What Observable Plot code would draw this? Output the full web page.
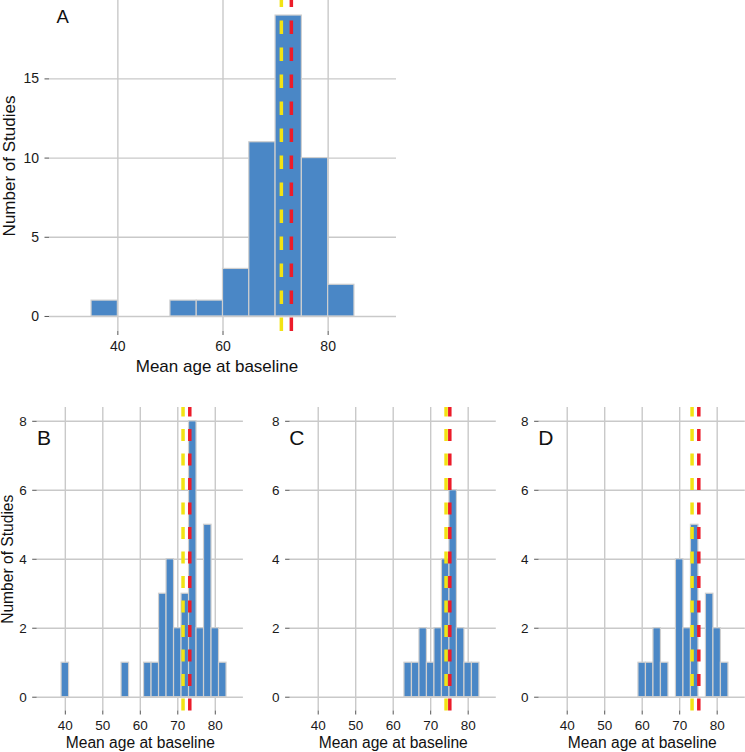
<!DOCTYPE html>
<html>
<head>
<meta charset="utf-8">
<script src="https://cdn.jsdelivr.net/npm/d3@7"></script>
<script src="https://cdn.jsdelivr.net/npm/@observablehq/plot@0.6"></script>
<style>
  html, body { margin: 0; padding: 0; background: #fff; }
  #wrap { position: relative; width: 745px; height: 752px; overflow: hidden; font-family: "Liberation Sans", Arial, sans-serif; }
</style>
</head>
<body>
<div id="wrap"></div>
<script>
// ---------- Data ----------
// Panel A: binwidth 5, bin start values and counts
const aBinStart = [35, 50, 55, 60, 65, 70, 75, 80];
const aCounts   = [1, 1, 1, 3, 11, 19, 10, 2];
const aYellow = 71.1, aRed = 73.0;

// Panels B, C, D: binwidth 2, bin centres and counts
const bBinMid = [40, 56, 62, 64, 66, 68, 70, 72, 74, 76, 78, 80, 82];
const bCounts = [1, 1, 1, 1, 3, 4, 2, 3, 8, 2, 5, 2, 1];
const bYellow = 71.4, bRed = 73.2;

const cBinMid = [64, 66, 68, 70, 72, 74, 76, 78, 80, 82];
const cCounts = [1, 1, 2, 1, 2, 4, 6, 2, 1, 1];
const cYellow = 74.1, cRed = 75.1;

const dBinMid = [60, 62, 64, 66, 70, 72, 74, 78, 80, 82];
const dCounts = [1, 1, 2, 1, 4, 2, 5, 3, 2, 1];
const dYellow = 73.3, dRed = 75.1;

const aXTicks = [40, 60, 80];
const aYTicks = [0, 5, 10, 15];
const bXTicks = [40, 50, 60, 70, 80];
const bYTicks = [0, 2, 4, 6, 8];

const xTitle = "Mean age at baseline";
const yTitle = "Number of Studies";
const panelLabels = ["A", "B", "C", "D"];

// ---------- Styling ----------
const FONT = "'Liberation Sans', Arial, sans-serif";
const BAR_FILL = "#4a87c6";
const BAR_STROKE = "#cfcfcf";
const GRID = "#c9c9c9";
const TICK = "#555";
const YELLOW = "#f2e313";
const RED = "#ec1c2a";

function panel(cfg) {
  const bars = cfg.starts.map((s, i) => ({x1: s, x2: s + cfg.bw, n: cfg.counts[i]}));
  const [y0, y1] = cfg.yDomain;
  const marks = [
    Plot.gridX(cfg.xTicks, {stroke: GRID, strokeOpacity: 1, strokeWidth: 1.4}),
    Plot.gridY(cfg.yTicks, {stroke: GRID, strokeOpacity: 1, strokeWidth: 1.4}),
    Plot.rect(bars, {x1: "x1", x2: "x2", y1: () => 0, y2: "n", fill: BAR_FILL, stroke: BAR_STROKE, strokeWidth: 1.2}),
    Plot.ruleX([cfg.yellow], {x: d => d, y1: () => y0, y2: () => y1, stroke: YELLOW, strokeWidth: 3.5, strokeDasharray: cfg.dash}),
    Plot.ruleX([cfg.red], {x: d => d, y1: () => y0, y2: () => y1, stroke: RED, strokeWidth: 3.5, strokeDasharray: cfg.dash}),
    Plot.axisX(cfg.xTicks, {anchor: "bottom", tickSize: 4, tickPadding: cfg.xPad, fontSize: cfg.tickFont, stroke: TICK, fill: "#1a1a1a", label: null}),
    Plot.axisY(cfg.yTicks, {anchor: "left", tickSize: 4.5, tickPadding: 6, fontSize: cfg.tickFont, stroke: TICK, fill: "#1a1a1a", label: null}),
    Plot.text([xTitle], {frameAnchor: "bottom", dy: cfg.xTitleDy, dx: cfg.xTitleDx, text: d => d, fontSize: cfg.titleFont, fill: "#111", textAnchor: "middle", lineAnchor: "middle"}),
    Plot.text([cfg.label], {x: () => cfg.labelX, y: () => cfg.labelY, text: d => d, fontSize: cfg.labelFont, fill: "#111"})
  ];
  if (cfg.showYTitle) {
    marks.push(Plot.text([yTitle], {frameAnchor: "left", rotate: -90, dx: cfg.yTitleDx, text: d => d, fontSize: cfg.titleFont, fill: "#111", textAnchor: "middle", lineAnchor: "middle"}));
  }
  const svg = Plot.plot({
    width: cfg.width,
    height: cfg.height,
    marginLeft: cfg.ml,
    marginRight: cfg.width - cfg.ml - cfg.pw,
    marginTop: cfg.mt,
    marginBottom: cfg.mb,
    style: {fontFamily: FONT, background: "transparent", overflow: "visible"},
    x: {domain: cfg.xDomain},
    y: {domain: cfg.yDomain},
    marks
  });
  svg.style.left = cfg.left + "px";
  svg.style.top = cfg.top + "px";
  svg.style.position = "absolute";
  document.getElementById("wrap").appendChild(svg);
}

// Panel A
panel({
  label: panelLabels[0], starts: aBinStart, counts: aCounts, bw: 5,
  yellow: aYellow, red: aRed,
  xTicks: aXTicks, yTicks: aYTicks,
  xDomain: [27, 93], yDomain: [-0.95, 19.95],
  left: 0, top: 0, width: 400, height: 375, ml: 49, pw: 347, mt: 0, mb: 44,
  tickFont: 14, titleFont: 17, labelFont: 18.5, xPad: 6, xTitleDy: 35, xTitleDx: -6, yTitleDx: -40,
  labelX: 29.5, labelY: 18.9, dash: "13.5,13.5", showYTitle: true
});

const small = {
  bw: 2, xTicks: bXTicks, yTicks: bYTicks,
  xDomain: [32.5, 87.5], yDomain: [-0.4, 8.4],
  top: 380, height: 372, pw: 206.2, mt: 27, mb: 41.5,
  tickFont: 13.5, titleFont: 15.6, labelFont: 21, xPad: 5, xTitleDy: 32, xTitleDx: 0, yTitleDx: -29,
  labelX: 34.3, labelY: 7.5, dash: "12,12.5"
};
panel({...small, label: panelLabels[1], starts: bBinMid.map(m => m - 1), counts: bCounts,
  yellow: bYellow, red: bRed, left: 0, width: 247, ml: 36.7, showYTitle: true});
panel({...small, label: panelLabels[2], starts: cBinMid.map(m => m - 1), counts: cCounts,
  yellow: cYellow, red: cRed, left: 250, width: 250, ml: 39.6, showYTitle: false});
panel({...small, label: panelLabels[3], starts: dBinMid.map(m => m - 1), counts: dCounts,
  yellow: dYellow, red: dRed, left: 495, width: 250, ml: 43.6, showYTitle: false});
</script>
</body>
</html>
